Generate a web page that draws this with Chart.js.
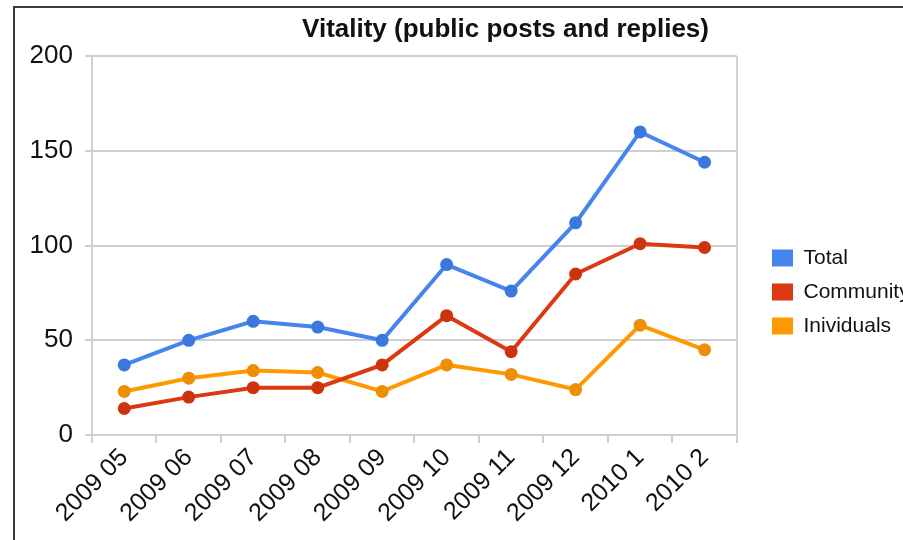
<!DOCTYPE html>
<html><head><meta charset="utf-8">
<script src="https://cdn.jsdelivr.net/npm/chart.js@4.4.1/dist/chart.umd.min.js"></script>
<style>
html,body{margin:0;padding:0;background:#fff;overflow:hidden;}
#wrap{position:relative;width:903px;height:540px;overflow:hidden;}
#frame{position:absolute;left:13px;top:6px;width:1000px;height:1000px;border-left:2px solid #3a3a3a;border-top:2px solid #3a3a3a;pointer-events:none;}
canvas{position:absolute;left:0;top:0}
</style></head><body>
<div id="wrap"><canvas id="c" width="903" height="540"></canvas><div id="frame"></div></div>
<script>
const categories = ['2009 05','2009 06','2009 07','2009 08','2009 09','2009 10','2009 11','2009 12','2010 1','2010 2'];
const totalValues = [37, 50, 60, 57, 50, 90, 76, 112, 160, 144];
const communityValues = [14, 20, 25, 25, 37, 63, 44, 85, 101, 99];
const individualValues = [23, 30, 34, 33, 23, 37, 32, 24, 58, 45];
const yTickValues = [0, 50, 100, 150, 200];
const seriesNames = ['Total', 'Community', 'Inividuals'];
const chartTitle = 'Vitality (public posts and replies)';

const FONT = "'Liberation Sans', Arial, sans-serif";
const GRID = '#cfcfcf';

const shiftBoxes = {
  id: 'shiftBoxes',
  afterLayout(chart) {
    const t = chart.titleBlock;
    if (t) { t.left += 55; t.right += 55; }
    const lg = chart.legend;
    if (lg) {
      const dx = 772 - (lg.left + lg.options.labels.padding);
      lg.left += dx; lg.right += dx;
      lg.top += 22; lg.bottom += 22;
    }
  }
};

function ds(label, data, color, pointColor) {
  return {
    label, data,
    borderColor: color, backgroundColor: color,
    pointBackgroundColor: pointColor, pointBorderColor: pointColor,
    pointBorderWidth: 0, pointRadius: 6.5, pointHoverRadius: 6.5,
    borderWidth: 4, tension: 0, fill: false
  };
}

new Chart(document.getElementById('c'), {
  type: 'line',
  data: {
    labels: categories,
    datasets: [
      ds(seriesNames[0], totalValues, '#4684ee', '#3a78e0'),
      ds(seriesNames[1], communityValues, '#dc3912', '#cc3410'),
      ds(seriesNames[2], individualValues, '#ff9900', '#ee8e05')
    ]
  },
  options: {
    responsive: false,
    animation: false,
    devicePixelRatio: 1,
    layout: { padding: { left: 0, right: 2, top: 0, bottom: 0 } },
    plugins: {
      tooltip: { enabled: false },
      title: {
        display: true, text: chartTitle, color: '#111',
        font: { family: FONT, size: 26, weight: 'bold' },
        padding: { top: 14, bottom: 11 }
      },
      legend: {
        position: 'right', align: 'center',
        labels: {
          color: '#111', font: { family: FONT, size: 21 },
          boxWidth: 21, boxHeight: 17, padding: 13,
          generateLabels(chart) {
            const items = Chart.defaults.plugins.legend.labels.generateLabels(chart);
            items.forEach(it => { it.lineWidth = 0; it.strokeStyle = it.fillStyle; });
            return items;
          }
        }
      }
    },
    scales: {
      x: {
        type: 'category', offset: true,
        grid: {
          offset: true, drawOnChartArea: true, drawTicks: true, tickLength: 8,
          lineWidth: 2, tickColor: GRID,
          color: ctx => (ctx.type !== 'tick' || ctx.index === 0) ? GRID : 'rgba(0,0,0,0)'
        },
        border: { display: true, color: GRID, width: 2 },
        ticks: {
          color: '#111', font: { family: FONT, size: 25 },
          minRotation: 45, maxRotation: 45, autoSkip: false, padding: 0
        },
        afterFit(s) { s.height = 105; }
      },
      y: {
        min: 0, max: 200,
        afterBuildTicks(s) { s.ticks = yTickValues.map(v => ({ value: v })); },
        grid: { color: GRID, lineWidth: 2, drawTicks: true, tickLength: 7, tickColor: GRID },
        border: { display: true, color: GRID, width: 2 },
        ticks: { color: '#111', font: { family: FONT, size: 26 }, padding: 12 },
        afterFit(s) { s.width = 92; }
      },
      yR: {
        position: 'right', display: true,
        grid: { display: false, drawTicks: false }, border: { display: false },
        ticks: { display: false },
        afterFit(s) { s.width = 14; }
      }
    }
  },
  plugins: [shiftBoxes]
});
</script>
</body></html>
